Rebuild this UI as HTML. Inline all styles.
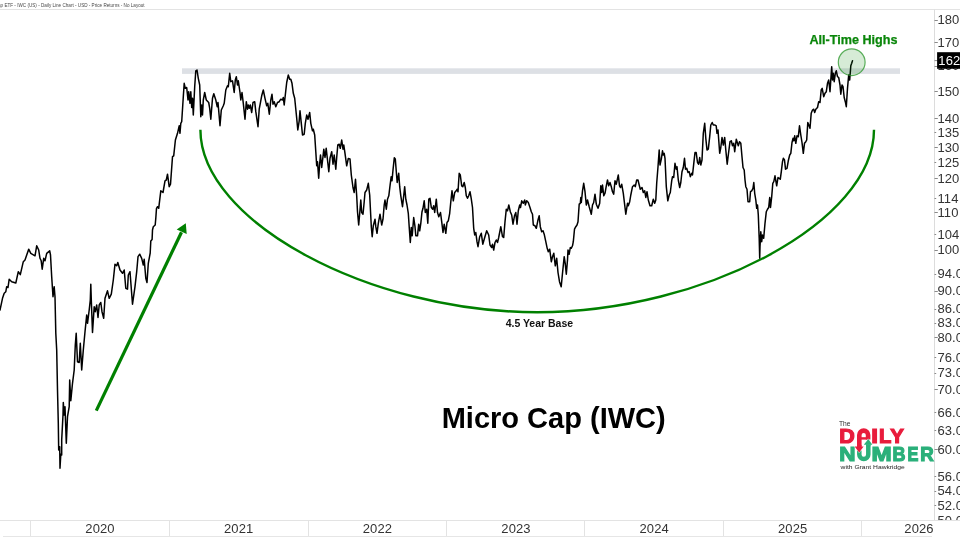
<!DOCTYPE html>
<html><head><meta charset="utf-8"><title>Micro Cap (IWC)</title>
<style>
html,body{margin:0;padding:0;background:#fff;}
body{width:960px;height:540px;overflow:hidden;font-family:"Liberation Sans",sans-serif;}
svg{display:block}
.ax text{font-family:"Liberation Sans",sans-serif;font-size:13px;letter-spacing:0.12px;fill:#333;}
.yr text{font-family:"Liberation Sans",sans-serif;font-size:13px;letter-spacing:0.1px;fill:#333;}
</style></head><body>
<svg width="960" height="540" viewBox="0 0 960 540">
<rect width="960" height="540" fill="#fff"/>
<!-- header -->
<text x="-2" y="6.8" font-family="Liberation Sans, sans-serif" font-size="5.2" fill="#484848" textLength="146.6" lengthAdjust="spacingAndGlyphs">ap ETF - IWC (US) - Daily Line Chart - USD - Price Returns - No Layout</text>
<line x1="0" x2="960" y1="9.5" y2="9.5" stroke="#e3e3e3" stroke-width="1"/>
<!-- axes -->
<line x1="934.5" x2="934.5" y1="9.5" y2="520" stroke="#dcdcdc" stroke-width="1"/>
<line x1="0" x2="960" y1="520.5" y2="520.5" stroke="#e3e3e3" stroke-width="1"/>
<line x1="3" x2="932" y1="536.5" y2="536.5" stroke="#e6e6e6" stroke-width="1"/>
<line x1="30.5" x2="30.5" y1="520" y2="536" stroke="#e3e3e3" stroke-width="1"/>
<line x1="169.5" x2="169.5" y1="520" y2="536" stroke="#e3e3e3" stroke-width="1"/>
<line x1="308.5" x2="308.5" y1="520" y2="536" stroke="#e3e3e3" stroke-width="1"/>
<line x1="446.5" x2="446.5" y1="520" y2="536" stroke="#e3e3e3" stroke-width="1"/>
<line x1="584.5" x2="584.5" y1="520" y2="536" stroke="#e3e3e3" stroke-width="1"/>
<line x1="723.5" x2="723.5" y1="520" y2="536" stroke="#e3e3e3" stroke-width="1"/>
<line x1="861.5" x2="861.5" y1="520" y2="536" stroke="#e3e3e3" stroke-width="1"/>
<g class="yr">
<text x="100" y="532.8" text-anchor="middle">2020</text>
<text x="238.7" y="532.8" text-anchor="middle">2021</text>
<text x="377.4" y="532.8" text-anchor="middle">2022</text>
<text x="516" y="532.8" text-anchor="middle">2023</text>
<text x="654.2" y="532.8" text-anchor="middle">2024</text>
<text x="792.7" y="532.8" text-anchor="middle">2025</text>
<text x="919" y="532.8" text-anchor="middle">2026</text>
</g>
<clipPath id="axclip"><rect x="934" y="10" width="26" height="510"/></clipPath>
<g class="ax" clip-path="url(#axclip)">
<line x1="934.5" x2="937.8" y1="20.5" y2="20.5" stroke="#8a8a8a" stroke-width="1"/>
<text x="937.4" y="24.2">180</text>
<line x1="934.5" x2="937.8" y1="42.5" y2="42.5" stroke="#8a8a8a" stroke-width="1"/>
<text x="937.4" y="46.6">170</text>
<line x1="934.5" x2="937.8" y1="66.5" y2="66.5" stroke="#8a8a8a" stroke-width="1"/>
<text x="937.4" y="70.3">160</text>
<line x1="934.5" x2="937.8" y1="91.5" y2="91.5" stroke="#8a8a8a" stroke-width="1"/>
<text x="937.4" y="95.5">150</text>
<line x1="934.5" x2="937.8" y1="118.5" y2="118.5" stroke="#8a8a8a" stroke-width="1"/>
<text x="937.4" y="122.5">140</text>
<line x1="934.5" x2="936.2" y1="132.5" y2="132.5" stroke="#8a8a8a" stroke-width="1"/>
<text x="937.4" y="136.8">135</text>
<line x1="934.5" x2="937.8" y1="147.5" y2="147.5" stroke="#8a8a8a" stroke-width="1"/>
<text x="937.4" y="151.5">130</text>
<line x1="934.5" x2="936.2" y1="162.5" y2="162.5" stroke="#8a8a8a" stroke-width="1"/>
<text x="937.4" y="166.9">125</text>
<line x1="934.5" x2="937.8" y1="178.5" y2="178.5" stroke="#8a8a8a" stroke-width="1"/>
<text x="937.4" y="182.9">120</text>
<line x1="934.5" x2="936.2" y1="198.5" y2="198.5" stroke="#8a8a8a" stroke-width="1"/>
<text x="937.4" y="202.9">114</text>
<line x1="934.5" x2="937.8" y1="212.5" y2="212.5" stroke="#8a8a8a" stroke-width="1"/>
<text x="937.4" y="216.9">110</text>
<line x1="934.5" x2="936.2" y1="234.5" y2="234.5" stroke="#8a8a8a" stroke-width="1"/>
<text x="937.4" y="238.9">104</text>
<line x1="934.5" x2="937.8" y1="250.5" y2="250.5" stroke="#8a8a8a" stroke-width="1"/>
<text x="937.4" y="254.2">100</text>
<line x1="934.5" x2="936.2" y1="274.5" y2="274.5" stroke="#8a8a8a" stroke-width="1"/>
<text x="937.4" y="278.4">94.00</text>
<line x1="934.5" x2="937.8" y1="291.5" y2="291.5" stroke="#8a8a8a" stroke-width="1"/>
<text x="937.4" y="295.4">90.00</text>
<line x1="934.5" x2="936.2" y1="309.5" y2="309.5" stroke="#8a8a8a" stroke-width="1"/>
<text x="937.4" y="313.2">86.00</text>
<line x1="934.5" x2="936.2" y1="323.5" y2="323.5" stroke="#8a8a8a" stroke-width="1"/>
<text x="937.4" y="327.1">83.00</text>
<line x1="934.5" x2="937.8" y1="337.5" y2="337.5" stroke="#8a8a8a" stroke-width="1"/>
<text x="937.4" y="341.5">80.00</text>
<line x1="934.5" x2="936.2" y1="357.5" y2="357.5" stroke="#8a8a8a" stroke-width="1"/>
<text x="937.4" y="361.6">76.00</text>
<line x1="934.5" x2="936.2" y1="373.5" y2="373.5" stroke="#8a8a8a" stroke-width="1"/>
<text x="937.4" y="377.3">73.00</text>
<line x1="934.5" x2="937.8" y1="389.5" y2="389.5" stroke="#8a8a8a" stroke-width="1"/>
<text x="937.4" y="393.8">70.00</text>
<line x1="934.5" x2="936.2" y1="412.5" y2="412.5" stroke="#8a8a8a" stroke-width="1"/>
<text x="937.4" y="416.8">66.00</text>
<line x1="934.5" x2="936.2" y1="430.5" y2="430.5" stroke="#8a8a8a" stroke-width="1"/>
<text x="937.4" y="435.0">63.00</text>
<line x1="934.5" x2="937.8" y1="449.5" y2="449.5" stroke="#8a8a8a" stroke-width="1"/>
<text x="937.4" y="454.1">60.00</text>
<line x1="934.5" x2="936.2" y1="476.5" y2="476.5" stroke="#8a8a8a" stroke-width="1"/>
<text x="937.4" y="481.1">56.00</text>
<line x1="934.5" x2="936.2" y1="491.5" y2="491.5" stroke="#8a8a8a" stroke-width="1"/>
<text x="937.4" y="495.3">54.00</text>
<line x1="934.5" x2="936.2" y1="505.5" y2="505.5" stroke="#8a8a8a" stroke-width="1"/>
<text x="937.4" y="510.1">52.00</text>
<line x1="934.5" x2="937.8" y1="521.5" y2="521.5" stroke="#8a8a8a" stroke-width="1"/>
<text x="937.4" y="525.4">50.00</text>
</g>
<!-- resistance band -->
<rect x="182" y="68.3" width="718" height="5.6" fill="#dde0e5"/>
<!-- price line -->
<polyline points="0.0,310.0 2.5,298.3 4.2,293.3 5.8,291.7 6.7,286.7 8.0,287.5 9.2,279.2 11.7,281.7 15.8,283.0 18.3,271.7 20.3,274.7 23.3,261.7 25.0,260.0 28.7,249.2 30.8,253.3 35.0,255.8 36.7,245.8 38.7,250.0 40.0,258.3 41.2,260.8 42.2,269.2 43.7,258.3 45.0,260.8 46.7,253.3 49.7,250.8 50.5,255.0 51.7,276.7 53.0,296.7 54.2,286.7 55.0,296.7 55.8,333.3 56.7,350.0 57.5,390.0 58.3,423.3 58.7,450.0 59.7,446.7 60.0,468.3 60.8,454.2 61.7,455.0 61.7,440.0 63.0,415.0 63.3,402.5 64.2,415.0 65.0,406.7 66.3,443.3 67.5,416.7 69.2,406.7 69.7,380.0 70.8,400.8 72.5,383.3 74.2,370.0 75.3,345.0 76.2,333.3 77.5,361.7 79.2,362.5 80.3,343.3 81.7,370.0 83.3,350.0 85.0,331.7 86.7,315.0 87.5,323.3 89.2,310.0 90.3,300.0 90.8,284.2 91.3,300.0 92.5,332.5 94.2,306.7 95.3,311.7 96.7,305.0 98.0,317.5 99.2,305.0 100.8,302.5 102.0,311.7 103.7,318.3 105.0,298.3 107.5,290.8 109.2,298.3 111.3,294.2 113.3,280.0 115.0,264.2 116.7,265.8 117.8,262.5 120.0,270.0 122.5,273.3 124.2,270.0 125.8,288.3 127.5,289.2 128.3,275.0 130.0,271.7 132.5,304.2 135.0,286.7 136.7,271.7 138.0,256.7 139.7,254.2 141.7,258.3 143.3,265.0 144.2,259.2 145.8,278.3 147.0,282.5 148.3,263.3 150.2,253.0 150.8,241.0 152.1,239.5 152.5,230.0 153.3,226.7 155.2,225.0 155.8,218.3 156.5,208.3 157.5,206.7 158.7,208.3 160.8,190.8 163.0,192.5 165.0,180.8 166.3,180.0 167.5,174.2 169.2,186.7 170.5,184.2 172.5,156.7 173.7,155.8 175.4,140.0 177.5,133.3 179.2,125.8 180.0,133.3 180.8,123.3 181.7,121.7 183.3,96.7 184.2,83.3 185.3,88.3 186.7,87.5 188.0,100.0 188.7,91.7 190.0,103.3 190.8,91.7 191.7,107.5 192.5,98.3 193.3,115.0 194.7,86.7 195.8,70.8 197.0,70.0 198.3,78.3 199.7,85.0 200.8,116.7 201.7,105.0 202.5,115.0 203.3,100.0 204.7,92.5 206.3,100.0 208.7,102.5 209.7,108.3 210.8,119.2 212.5,98.3 213.8,93.7 215.8,100.0 217.2,106.7 218.0,102.5 220.0,125.8 221.3,110.0 223.3,105.8 224.2,103.3 225.8,90.0 227.5,85.8 228.3,86.7 229.7,73.3 230.8,81.7 232.5,80.8 234.2,92.5 235.3,80.0 236.3,76.7 237.5,85.0 238.3,80.8 240.0,92.5 240.8,100.0 242.0,92.5 243.3,103.3 245.0,119.2 246.3,101.7 247.5,109.2 248.3,105.0 249.3,108.3 250.3,105.0 251.7,112.5 253.0,102.5 254.7,101.7 255.8,111.7 258.0,126.7 259.2,109.2 260.3,103.3 261.7,95.8 263.3,90.0 265.0,98.3 266.7,105.8 267.8,103.3 269.3,114.2 270.8,100.0 272.0,94.2 273.0,104.2 274.2,101.7 275.8,106.7 277.5,102.5 279.2,101.7 280.8,99.2 282.5,100.0 283.3,97.5 284.2,105.0 285.3,95.0 286.7,82.5 288.3,75.0 289.7,79.2 290.8,79.2 292.0,83.3 293.3,93.3 294.7,98.3 296.7,118.3 297.8,130.0 299.2,120.8 300.0,110.8 301.3,123.3 302.5,135.0 304.2,134.2 305.3,123.3 306.7,115.0 308.0,119.2 309.7,112.5 310.8,123.3 312.5,130.8 313.3,129.2 314.7,135.0 315.8,151.7 316.7,165.8 317.5,161.7 318.7,178.3 319.7,163.3 320.5,155.0 321.7,167.5 323.0,156.7 323.8,149.2 325.0,157.5 326.2,148.3 327.5,160.0 328.8,171.7 330.0,158.3 331.7,151.7 333.0,164.2 334.2,155.0 335.8,169.2 336.7,157.5 337.8,145.0 339.2,144.2 340.3,148.3 341.7,140.0 343.0,149.2 343.8,145.0 345.0,153.3 346.7,165.8 348.3,158.5 350.0,159.0 351.3,175.0 353.0,187.5 354.2,192.5 355.5,179.2 356.7,195.8 357.5,211.7 358.7,225.0 360.0,210.0 360.8,200.0 361.7,212.5 363.0,214.2 364.2,201.7 365.0,192.5 366.7,190.0 368.3,183.3 369.7,195.0 370.8,216.7 371.3,226.7 372.2,236.7 373.3,225.8 375.0,219.2 375.8,226.7 377.0,233.3 378.3,223.3 380.0,214.2 381.7,225.0 383.0,219.2 384.2,205.0 385.0,200.0 386.3,209.2 387.5,199.2 388.8,195.8 390.0,185.8 391.2,176.7 392.0,180.8 393.0,170.0 394.3,157.8 395.3,159.0 396.3,171.7 397.2,182.5 398.7,173.3 399.7,186.7 400.8,195.8 402.5,206.7 403.7,195.8 404.7,186.7 405.8,199.2 407.0,205.0 408.3,213.3 409.2,226.7 410.3,242.5 411.3,227.5 412.2,235.8 413.7,217.5 415.0,226.7 415.8,235.8 417.5,235.8 418.7,224.2 419.7,230.8 420.8,223.3 422.0,211.7 423.0,208.3 424.2,200.8 425.3,212.5 426.7,209.2 427.8,223.3 428.8,199.2 430.0,198.3 431.3,207.5 432.7,209.2 433.7,205.8 434.7,212.5 436.3,199.2 437.5,212.5 438.8,216.7 440.5,212.5 441.7,221.7 443.0,232.5 444.2,224.2 445.8,233.3 447.0,222.5 448.3,220.8 449.7,213.3 450.8,201.7 452.0,190.8 453.3,200.8 454.7,192.5 456.2,190.8 457.2,189.2 458.0,191.7 459.2,173.3 460.3,175.0 461.7,185.8 462.8,186.7 464.2,182.5 465.3,187.5 466.3,195.8 467.5,198.3 468.7,195.8 470.0,191.7 471.2,198.3 472.5,207.5 473.7,228.3 474.7,235.0 475.8,232.5 477.0,241.7 478.0,246.7 479.7,236.7 481.3,233.3 482.8,244.2 484.7,237.5 486.7,230.8 488.7,235.0 490.0,245.0 491.7,247.5 492.5,244.2 493.7,250.0 495.0,242.5 496.3,240.0 497.5,242.5 498.7,237.5 500.8,226.7 502.5,236.7 503.7,237.5 505.0,221.7 506.3,209.2 507.5,210.8 508.8,205.0 510.3,211.7 511.7,215.0 513.0,224.2 514.5,215.8 515.8,212.5 517.0,224.2 518.3,210.8 519.7,205.0 520.5,207.5 521.7,200.8 523.3,203.3 524.7,200.0 525.3,205.0 526.7,200.8 528.3,202.5 530.0,207.5 531.3,211.7 532.5,214.2 533.3,225.0 535.0,225.8 536.3,228.3 537.8,220.8 539.2,215.8 540.3,226.7 541.7,231.7 543.0,230.8 544.2,234.2 545.8,241.7 547.2,248.3 548.3,251.7 549.7,249.2 551.3,261.7 552.5,256.7 553.8,253.3 555.3,265.8 556.7,258.3 558.0,272.5 559.5,281.7 561.2,286.7 562.5,273.3 564.2,256.7 565.3,264.2 566.3,274.2 567.5,260.0 568.0,250.0 569.2,254.2 570.3,247.5 571.3,248.3 572.5,245.8 573.3,241.7 574.5,229.2 575.8,226.7 577.0,225.0 578.0,221.7 579.2,204.2 580.3,203.3 580.8,197.5 581.3,202.5 582.5,190.8 583.7,183.3 585.0,191.7 586.3,205.0 587.5,200.0 589.2,206.7 591.3,214.2 592.5,205.0 593.7,202.5 595.0,194.2 596.3,204.2 598.0,208.3 599.7,203.3 600.8,185.8 601.7,192.5 602.5,185.0 603.8,195.8 605.0,193.3 606.3,185.8 607.5,180.0 608.7,185.8 610.0,182.5 611.3,186.7 612.5,191.7 613.7,194.2 615.0,180.8 616.3,184.2 618.3,175.0 619.5,185.8 620.5,187.5 621.7,184.2 623.3,193.3 624.7,205.0 625.8,214.2 627.5,203.3 628.3,205.8 629.7,201.7 630.8,195.0 632.5,186.7 634.2,185.0 635.3,186.7 636.7,180.0 638.0,180.0 639.2,185.0 640.3,189.2 642.0,187.5 643.3,192.5 644.7,190.8 645.8,197.5 647.0,191.7 648.3,200.0 650.0,205.8 651.7,205.8 653.3,199.2 654.7,203.3 655.8,200.0 656.7,183.3 658.0,166.7 659.2,150.0 660.0,165.0 661.3,159.2 662.5,150.8 663.3,155.0 664.2,153.3 665.0,158.3 666.3,186.7 667.8,200.8 669.2,195.0 670.3,192.5 671.7,180.8 672.5,176.7 673.7,177.5 675.0,163.3 676.2,169.2 677.0,166.7 678.3,180.0 679.7,187.5 680.8,182.5 682.0,171.7 683.3,167.5 684.5,158.3 685.5,169.2 686.7,168.3 688.0,172.5 689.2,171.7 690.3,176.7 691.7,173.3 692.5,175.0 693.7,164.2 695.0,152.5 696.2,152.5 697.5,162.5 698.7,164.2 699.7,157.5 700.8,165.0 702.0,160.0 703.3,133.3 704.7,123.3 705.8,138.3 707.0,150.0 708.3,149.2 709.7,136.7 710.8,125.0 712.2,122.5 713.3,125.0 715.0,125.0 716.2,125.8 717.0,133.3 718.0,130.0 719.7,153.3 720.8,147.5 722.0,137.5 723.3,145.0 724.7,137.5 725.8,150.0 727.2,164.2 728.3,155.0 730.0,141.7 731.3,140.8 732.5,145.8 733.7,143.3 734.7,151.7 736.3,139.2 737.5,143.3 738.3,145.8 739.5,141.7 740.8,143.3 742.0,156.7 743.0,167.5 744.2,170.0 745.0,180.0 745.8,186.7 747.0,189.2 748.0,201.7 749.7,201.7 750.5,191.7 751.7,190.8 753.0,188.3 753.8,182.5 754.7,193.3 755.8,200.0 756.7,208.3 757.5,205.0 758.3,215.0 759.2,238.3 759.7,258.3 760.0,246.7 760.8,231.7 761.7,241.7 762.5,235.0 763.7,238.3 765.0,223.3 766.3,211.7 767.5,209.2 768.7,207.5 769.7,197.5 770.5,207.5 771.7,196.7 772.8,183.3 773.8,181.7 775.0,175.8 776.7,185.8 778.0,177.5 779.2,178.3 780.3,179.2 781.3,171.7 782.5,161.7 783.3,158.3 784.5,160.0 785.5,169.2 787.0,168.3 788.3,160.8 789.7,155.0 790.8,153.3 792.0,142.5 793.0,138.3 793.8,140.8 794.7,135.8 795.8,143.3 797.0,135.8 798.3,136.7 799.5,125.8 800.8,135.0 802.0,142.5 803.3,153.3 804.5,143.3 805.8,141.7 806.7,140.0 807.8,122.5 808.8,125.0 810.0,128.3 811.2,113.3 812.5,110.0 813.7,109.2 814.7,112.5 815.8,109.2 817.5,107.5 818.7,101.7 820.0,102.5 821.2,90.0 822.2,88.3 823.7,96.7 825.0,93.3 826.3,91.7 827.5,83.3 828.7,80.0 830.0,91.7 830.8,80.0 831.7,66.7 832.5,80.0 833.3,73.3 834.2,81.7 835.3,73.3 836.3,70.8 837.5,76.7 838.7,77.5 840.0,85.0 840.8,94.2 842.0,85.0 843.0,86.7 844.2,97.5 845.3,101.7 846.3,106.7 847.5,88.3 848.7,75.0 849.7,80.0 850.8,65.8 851.7,63.3 852.5,60.8" fill="none" stroke="#000" stroke-width="1.5" stroke-linejoin="round" stroke-linecap="round"/>
<!-- base arc -->
<path d="M200.4,129.8 C200.4,221 368.8,312.2 537.2,312.2 C705.6,312.2 874,221 874,129.8" fill="none" stroke="#008000" stroke-width="2.4"/>
<!-- arrow -->
<line x1="96.3" y1="410.6" x2="181.5" y2="232.2" stroke="#008000" stroke-width="3.2"/>
<polygon points="185.8,223.2 176.7,229.6 186.7,234" fill="#008000"/>
<!-- circle -->
<circle cx="851.7" cy="62.2" r="13.4" fill="rgba(0,128,0,0.16)" stroke="rgba(40,150,40,0.75)" stroke-width="1.2"/>
<!-- texts -->
<text x="853.5" y="44" text-anchor="middle" font-family="Liberation Sans, sans-serif" font-weight="bold" font-size="12.5" fill="#0a860a" stroke="#0a860a" stroke-width="0.25" textLength="88" lengthAdjust="spacingAndGlyphs">All-Time Highs</text>
<text x="539.4" y="326.7" text-anchor="middle" font-family="Liberation Sans, sans-serif" font-weight="bold" font-size="10" fill="#111" textLength="67.5" lengthAdjust="spacingAndGlyphs">4.5 Year Base</text>
<text x="553.7" y="428.3" text-anchor="middle" font-family="Liberation Sans, sans-serif" font-weight="bold" font-size="29.3" fill="#000" textLength="224" lengthAdjust="spacingAndGlyphs">Micro Cap (IWC)</text>
<!-- price tag -->
<line x1="934.5" x2="937.5" y1="60.6" y2="60.6" stroke="#888" stroke-width="1"/>
<rect x="937.1" y="52.2" width="23" height="16.6" fill="#000"/>
<text x="938.3" y="65" font-family="Liberation Sans, sans-serif" font-size="13" letter-spacing="0.12" fill="#fff">162.44</text>
<!-- LOGO -->
<g id="logo">
<text x="838.9" y="425.8" font-family="Liberation Sans, sans-serif" font-size="6.5" fill="#2a2a2a" textLength="11.5" lengthAdjust="spacingAndGlyphs">The</text>
<g font-family="Liberation Sans, sans-serif" font-weight="bold" fill="#e81c3c" stroke="#e81c3c" stroke-width="1.2" stroke-linejoin="miter">
<text x="839.38" y="442.90" font-size="20.06" textLength="15.50" lengthAdjust="spacingAndGlyphs">D</text>
<text x="871.31" y="442.90" font-size="20.06" textLength="6.71" lengthAdjust="spacingAndGlyphs">I</text>
<text x="879.07" y="442.90" font-size="20.06" textLength="12.34" lengthAdjust="spacingAndGlyphs">L</text>
<text x="890.25" y="442.90" font-size="20.06" textLength="13.68" lengthAdjust="spacingAndGlyphs">Y</text>
</g>
<g font-family="Liberation Sans, sans-serif" font-weight="bold" fill="#2bb07a" stroke="#2bb07a" stroke-width="1.2" stroke-linejoin="miter">
<text x="839.31" y="461.30" font-size="19.91" textLength="16.30" lengthAdjust="spacingAndGlyphs">N</text>
<text x="871.50" y="461.30" font-size="19.91" textLength="20.20" lengthAdjust="spacingAndGlyphs">M</text>
<text x="892.51" y="461.30" font-size="19.91" textLength="13.00" lengthAdjust="spacingAndGlyphs">B</text>
<text x="907.42" y="461.30" font-size="19.91" textLength="10.92" lengthAdjust="spacingAndGlyphs">E</text>
<text x="920.27" y="461.30" font-size="19.91" textLength="13.51" lengthAdjust="spacingAndGlyphs">R</text>
</g>
<!-- U -->
<path d="M859.3,450.5 V454.6 a4.5,4.5 0 0 0 9,0 V444.4" fill="none" stroke="#2bb07a" stroke-width="4.5"/>
<!-- A with down arrow -->
<path d="M859.3,447 V435 a4.4,4.4 0 0 1 8.8,0 V439.6" fill="none" stroke="#e81c3c" stroke-width="4.6"/>
<rect x="859.3" y="437.2" width="8.8" height="2.4" fill="#e81c3c"/>
<polygon points="854.6,446.4 863.6,446.4 859.2,452.6" fill="#e81c3c" stroke="#fff" stroke-width="0.7" paint-order="stroke"/>
<rect x="857" y="445" width="4.6" height="2.2" fill="#e81c3c"/>
<!-- up arrow -->
<polygon points="863.8,444.8 872.4,444.8 868.3,438.9" fill="#2bb07a" stroke="#fff" stroke-width="0.7" paint-order="stroke"/>
<rect x="866.05" y="444.2" width="4.5" height="2" fill="#2bb07a"/>
<text x="840.6" y="469.3" font-family="Liberation Sans, sans-serif" font-size="6.2" fill="#222" textLength="64.2" lengthAdjust="spacingAndGlyphs">with Grant Hawkridge</text>
</g>
</svg>
</body></html>
